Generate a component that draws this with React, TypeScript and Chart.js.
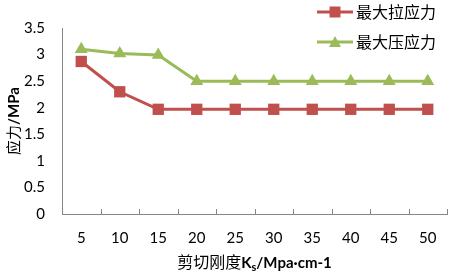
import React, { useEffect, useRef } from "react";
import { Chart, registerables } from "chart.js";

Chart.register(...registerables);

const categories = ["5", "10", "15", "20", "25", "30", "35", "40", "45", "50"];
const tensile = [2.87, 2.3, 1.97, 1.97, 1.97, 1.97, 1.97, 1.97, 1.97, 1.97];
const compressive = [3.1, 3.02, 2.99, 2.5, 2.5, 2.5, 2.5, 2.5, 2.5, 2.5];
const seriesNames = ["最大拉应力", "最大压应力"];
const yTitleParts = ["应力", "/MPa"];
const xTitleParts = ["剪切刚度", "K", "s", "/Mpa·cm-1"];

const RED = "#C0504D";
const GREEN = "#9BBB59";
const AXIS = "#868686";
const CJK = "'Noto Sans CJK SC', 'Noto Sans', sans-serif";
const NUM = "Lato, 'Open Sans', sans-serif";

const overlay = {
  id: "overlay",
  afterDraw(chart: any) {
    const ctx = chart.ctx;
    const area = chart.chartArea;
    const xs = chart.scales.x;
    ctx.save();
    ctx.strokeStyle = AXIS;
    ctx.lineWidth = 1;
    const n = categories.length;
    const step = xs.getPixelForValue(1) - xs.getPixelForValue(0);
    for (let i = 0; i <= n; i++) {
      let px = xs.getPixelForValue(0) - step / 2 + i * step;
      px = Math.round(px) + 0.5;
      ctx.beginPath();
      ctx.moveTo(px, area.bottom);
      ctx.lineTo(px, area.bottom - 5);
      ctx.stroke();
    }
    // legend
    const items = [
      { name: seriesNames[0], color: RED, style: "rect", y: 12 },
      { name: seriesNames[1], color: GREEN, style: "triangle", y: 42 },
    ];
    items.forEach((it) => {
      ctx.strokeStyle = it.color;
      ctx.lineWidth = 3;
      ctx.beginPath();
      ctx.moveTo(317, it.y);
      ctx.lineTo(353, it.y);
      ctx.stroke();
      ctx.fillStyle = it.color;
      ctx.beginPath();
      if (it.style === "rect") {
        ctx.rect(335 - 5.5, it.y - 5.5, 11, 11);
      } else {
        ctx.moveTo(335, it.y - 6);
        ctx.lineTo(341, it.y + 5);
        ctx.lineTo(329, it.y + 5);
        ctx.closePath();
      }
      ctx.fill();
      ctx.fillStyle = "#000";
      ctx.font = `16px ${CJK}`;
      ctx.textAlign = "left";
      ctx.textBaseline = "middle";
      ctx.fillText(it.name, 356, it.y);
    });
    // y title
    ctx.save();
    ctx.translate(13, 121);
    ctx.rotate(-Math.PI / 2);
    ctx.fillStyle = "#000";
    ctx.textBaseline = "middle";
    const yf0 = `15px ${CJK}`;
    const yf1 = `bold 15px ${NUM}`;
    ctx.font = yf0;
    const yw0 = ctx.measureText(yTitleParts[0]).width;
    ctx.font = yf1;
    const yw1 = ctx.measureText(yTitleParts[1]).width;
    let yx = -(yw0 + yw1) / 2;
    ctx.textAlign = "left";
    ctx.font = yf0;
    ctx.fillText(yTitleParts[0], yx, 0);
    yx += yw0;
    ctx.font = yf1;
    ctx.fillText(yTitleParts[1], yx, 1);
    ctx.restore();
    // x title with subscript
    const fonts = [`16px ${CJK}`, `bold 15px ${NUM}`, `bold 11px ${NUM}`, `bold 15px ${NUM}`];
    const dy = [0, 1, 5, 1];
    const widths = xTitleParts.map((t, i) => {
      ctx.font = fonts[i];
      return ctx.measureText(t).width;
    });
    const total = widths.reduce((a, b) => a + b, 0);
    let x = (area.left + area.right) / 2 - total / 2;
    const ty = 262;
    ctx.textAlign = "left";
    ctx.textBaseline = "middle";
    ctx.fillStyle = "#000";
    xTitleParts.forEach((t, i) => {
      ctx.font = fonts[i];
      ctx.fillText(t, x, ty + dy[i]);
      x += widths[i];
    });
    ctx.restore();
  },
};

export default function App() {
  const ref = useRef<HTMLCanvasElement>(null);
  useEffect(() => {
    document.body.style.margin = "0";
    const chart = new Chart(ref.current!, {
      type: "line",
      data: {
        labels: categories,
        datasets: [
          {
            label: seriesNames[0],
            data: tensile,
            borderColor: RED,
            backgroundColor: RED,
            borderWidth: 3,
            pointStyle: "rect",
            pointRadius: 8,
            pointBorderWidth: 0,
          },
          {
            label: seriesNames[1],
            data: compressive,
            borderColor: GREEN,
            backgroundColor: GREEN,
            borderWidth: 3,
            pointStyle: "triangle",
            pointRadius: 7.5,
            pointBorderWidth: 0,
          },
        ],
      },
      options: {
        responsive: false,
        animation: false,
        layout: { padding: { left: 0, right: 1, top: 28, bottom: 0 } },
        plugins: { legend: { display: false }, tooltip: { enabled: false } },
        scales: {
          x: {
            offset: true,
            grid: { display: false, drawTicks: false },
            border: { display: true, color: AXIS, width: 1 },
            ticks: { color: "#000", font: { family: NUM, size: 15 }, padding: 15, maxRotation: 0 },
            afterFit: (s: any) => { s.height = 60; },
          },
          y: {
            min: 0,
            max: 3.5,
            ticks: {
              stepSize: 0.5,
              color: "#000",
              font: { family: NUM, size: 15 },
              padding: 17,
              callback: (v: any) => String(Number(v)),
            },
            grid: { display: false, drawTicks: false },
            border: { display: true, color: AXIS, width: 1 },
            afterFit: (s: any) => { s.width = 62; },
          },
        },
      },
      plugins: [overlay],
    });
    return () => chart.destroy();
  }, []);
  return <canvas ref={ref} width={455} height={274} />;
}
